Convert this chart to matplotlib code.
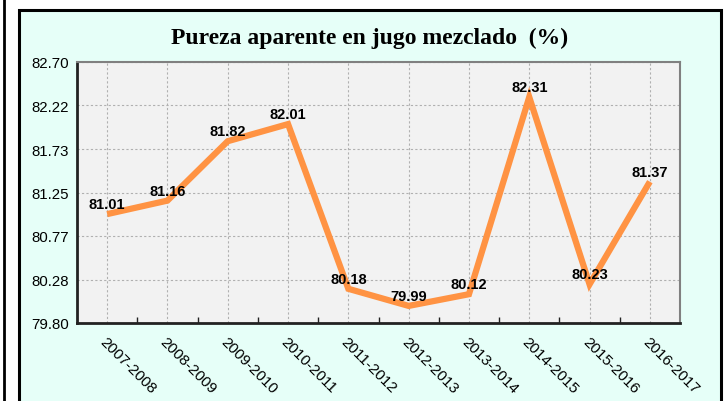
import matplotlib
matplotlib.use("Agg")
import matplotlib.pyplot as plt
from matplotlib.patches import Rectangle
from matplotlib.lines import Line2D
from matplotlib.ticker import FixedLocator
import matplotlib.transforms as mtransforms

categories = ["2007-2008", "2008-2009", "2009-2010", "2010-2011", "2011-2012",
              "2012-2013", "2013-2014", "2014-2015", "2015-2016", "2016-2017"]
values = [81.01, 81.16, 81.82, 82.01, 80.18, 79.99, 80.12, 82.31, 80.23, 81.37]
yticks = [79.80, 80.28, 80.77, 81.25, 81.73, 82.22, 82.70]
title = "Pureza aparente en jugo mezclado  (%)"

W, H = 725, 402
fig = plt.figure(figsize=(W / 100, H / 100), dpi=100)
fig.patch.set_facecolor("white")

# outer frame box
fig.patches.append(Rectangle((19 / W, -0.05), (721 - 19) / W, 1.05 - 11 / H,
                             transform=fig.transFigure, facecolor="#E6FFF8",
                             edgecolor="black", linewidth=2.2, zorder=-5))
# left vertical line
fig.lines.append(Line2D([3.5 / W, 3.5 / W], [0, 1], transform=fig.transFigure,
                        color="black", linewidth=2, zorder=-5))

ax = fig.add_axes([77 / W, 1 - 324 / H, (680 - 77) / W, (324 - 63) / H])
ax.set_facecolor("#F2F2F2")
x = list(range(len(categories)))
ax.plot(x, values, color="#FF9343", linewidth=4.5, solid_joinstyle="miter",
        solid_capstyle="butt", zorder=3)
for xi, v in zip(x, values):
    ax.text(xi, v + 0.11, f"{v:.2f}", ha="center", va="center",
            fontsize=10.5, fontweight="bold", family="Liberation Sans", zorder=4)

ax.set_xlim(-0.5, len(categories) - 0.5)
ax.set_ylim(79.80, 82.70)
ax.set_yticks(yticks)
ax.set_yticklabels([f"{t:.2f}" for t in yticks], family="Liberation Sans", fontsize=10.8)
ax.set_xticks(x)
ax.set_xticklabels(categories, rotation=-45, ha="left", va="top",
                   rotation_mode="anchor", family="Liberation Sans", fontsize=11)
offset = mtransforms.ScaledTranslation(-7 / 100, 0, fig.dpi_scale_trans)
for lab in ax.get_xticklabels():
    lab.set_transform(lab.get_transform() + offset)
ax.tick_params(axis="x", length=0, pad=8)
ax.tick_params(axis="y", length=0, pad=6)
# minor ticks at bin edges
ax.xaxis.set_minor_locator(FixedLocator([i + 0.5 for i in range(len(categories) - 1)]))
ax.tick_params(axis="x", which="minor", direction="in", length=4, width=1, color="#222222")

ax.grid(True, which="major", color="#B0B0B0", linestyle=(0, (2, 2)), linewidth=0.8)
ax.set_axisbelow(True)
for s in ["left", "bottom"]:
    ax.spines[s].set_color("#222222")
    ax.spines[s].set_linewidth(2)
for s in ["top", "right"]:
    ax.spines[s].set_color("#808080")
    ax.spines[s].set_linewidth(1.5)

fig.text(370 / W, 1 - 38 / H, title, ha="center", va="center",
         fontsize=17, fontweight="bold", family="Liberation Serif")

fig.savefig("out.png", dpi=100)
